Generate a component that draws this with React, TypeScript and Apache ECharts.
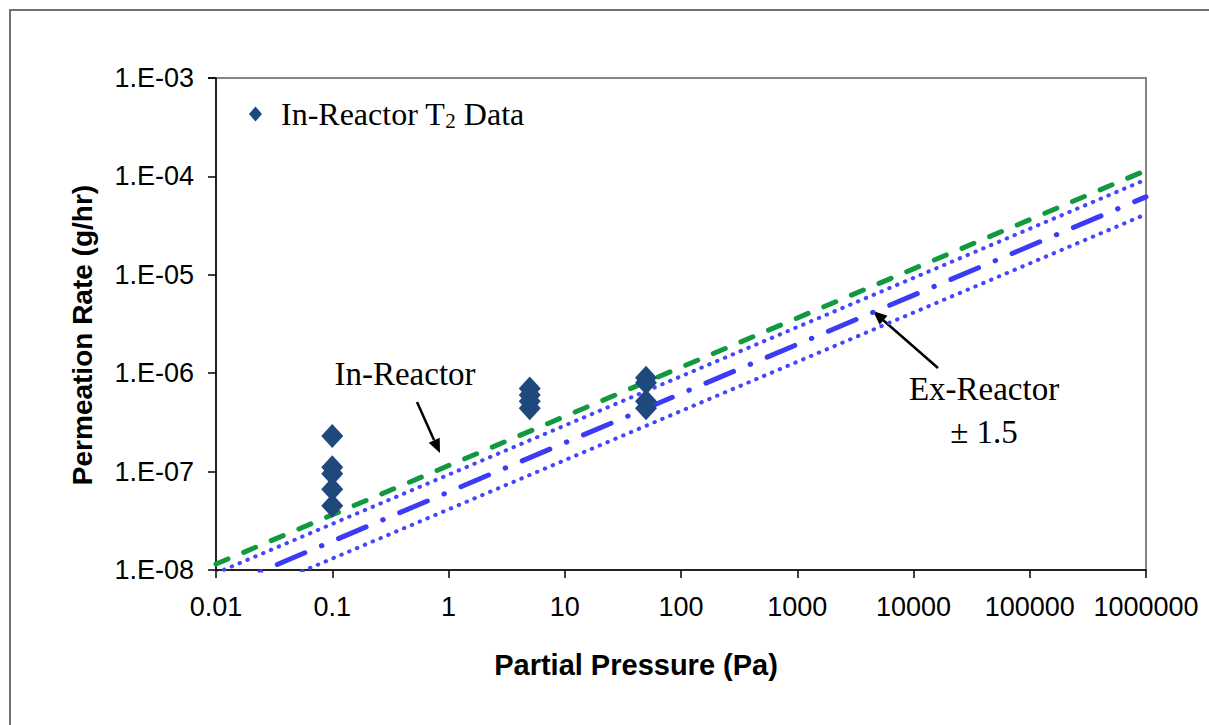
import React, { useEffect, useRef } from "react";
import * as echarts from "echarts";

// ---- data ----
const xTickLabels = ["0.01", "0.1", "1", "10", "100", "1000", "10000", "100000", "1000000"];
const yTickLabels = ["1.E-08", "1.E-07", "1.E-06", "1.E-05", "1.E-04", "1.E-03"];

// In-Reactor T2 data (partial pressure Pa, permeation rate g/hr)
const dataP01 = [2.3e-7, 1.11e-7, 9.5e-8, 6.6e-8, 4.5e-8];
const dataP5 = [7.0e-7, 6.0e-7, 5.2e-7, 4.4e-7];
const dataP50 = [9.0e-7, 8.0e-7, 5.2e-7, 4.4e-7];

// fitted lines: endpoints at 0.01 Pa and 1e6 Pa
const lineX = [0.01, 1000000];
const inReactorY = [1.15e-8, 1.15e-4];
const exReactorY = [6.2e-9, 6.2e-5];
const exReactorHighY = [9.3e-9, 9.3e-5];
const exReactorLowY = [4.13e-9, 4.13e-5];

const scatterData = [
  ...dataP01.map((v) => [0.1, v]),
  ...dataP5.map((v) => [5, v]),
  ...dataP50.map((v) => [50, v]),
];
const toLine = (ys: number[]) => lineX.map((x, i) => [x, ys[i]]);

const SANS = "Liberation Sans, Arial, sans-serif";
const SERIF = "Liberation Serif, Times New Roman, serif";

export default function App() {
  const ref = useRef<HTMLDivElement>(null);
  useEffect(() => {
    if (!ref.current) return;
    const chart = echarts.init(ref.current, null, { renderer: "svg" });
    chart.setOption({
      animation: false,
      backgroundColor: "#ffffff",
      grid: {
        left: 216,
        top: 78,
        right: 63,
        bottom: 155,
        show: true,
        borderColor: "#868686",
        borderWidth: 2,
        backgroundColor: "transparent",
      },
      legend: {
        show: true,
        left: 244,
        top: 93,
        data: [{ name: "In-Reactor T2 Data", icon: "diamond" }],
        itemWidth: 13,
        itemHeight: 15,
        formatter: () => "In-Reactor T{sub|2} Data",
        textStyle: {
          fontFamily: SERIF,
          fontSize: 32,
          color: "#000",
          padding: [0, 0, 0, 14],
          rich: {
            sub: { fontFamily: SERIF, fontSize: 21, color: "#000", padding: [14, 0, 0, 0] },
          },
        },
      },
      xAxis: {
        type: "log",
        logBase: 10,
        min: 0.01,
        max: 1000000,
        axisLine: { show: true, lineStyle: { color: "#000", width: 1.5 } },
        axisTick: { show: true, inside: false, length: 8, lineStyle: { color: "#000", width: 1.5 } },
        minorTick: { show: false },
        splitLine: { show: false },
        axisLabel: {
          margin: 23,
          fontFamily: SANS,
          fontSize: 27,
          color: "#000",
          formatter: (_v: number, i: number) => xTickLabels[i] ?? "",
        },
      },
      yAxis: {
        type: "log",
        logBase: 10,
        min: 1e-8,
        max: 1e-3,
        axisLine: { show: true, lineStyle: { color: "#000", width: 1.5 } },
        axisTick: { show: true, inside: false, length: 8, lineStyle: { color: "#000", width: 1.5 } },
        splitLine: { show: false },
        axisLabel: {
          margin: 22,
          fontFamily: SANS,
          fontSize: 27,
          color: "#000",
          formatter: (_v: number, i: number) => yTickLabels[i] ?? "",
        },
      },
      series: [
        {
          name: "Ex-Reactor -1.5",
          type: "line",
          data: toLine(exReactorLowY),
          symbol: "none",
          lineStyle: { color: "#4545FF", width: 4, type: [0.5, 8], cap: "round" },
          z: 2,
        },
        {
          name: "Ex-Reactor +1.5",
          type: "line",
          data: toLine(exReactorHighY),
          symbol: "none",
          lineStyle: { color: "#4545FF", width: 4, type: [0.5, 8], cap: "round" },
          z: 2,
        },
        {
          name: "Ex-Reactor",
          type: "line",
          data: toLine(exReactorY),
          symbol: "none",
          lineStyle: { color: "#3B3BF5", width: 5, type: [30, 18, 0.5, 18], cap: "round" },
          z: 2,
        },
        {
          name: "In-Reactor",
          type: "line",
          data: toLine(inReactorY),
          symbol: "none",
          lineStyle: { color: "#10993F", width: 5, type: [13, 17], cap: "round" },
          z: 3,
        },
        {
          name: "In-Reactor T2 Data",
          type: "scatter",
          data: scatterData,
          symbol: "diamond",
          symbolSize: [22, 24],
          itemStyle: { color: "#1F497D", opacity: 1 },
          z: 4,
        },
      ],
      graphic: [
        {
          type: "rect",
          shape: { x: 10, y: 10, width: 1260, height: 800 },
          style: { fill: "none", stroke: "#707070", lineWidth: 2 },
          silent: true,
        },
        {
          type: "text",
          x: 82,
          y: 335,
          rotation: Math.PI / 2,
          style: {
            text: "Permeation Rate (g/hr)",
            fontFamily: SANS,
            fontWeight: "bold",
            fontSize: 28,
            fill: "#000",
            align: "center",
            verticalAlign: "middle",
          },
        },
        {
          type: "text",
          x: 636,
          y: 665,
          style: {
            text: "Partial Pressure (Pa)",
            fontFamily: SANS,
            fontWeight: "bold",
            fontSize: 29,
            fill: "#000",
            align: "center",
            verticalAlign: "middle",
          },
        },
        {
          type: "text",
          x: 405,
          y: 374,
          style: {
            text: "In-Reactor",
            fontFamily: SERIF,
            fontSize: 33,
            fill: "#000",
            align: "center",
            verticalAlign: "middle",
          },
        },
        {
          type: "line",
          shape: { x1: 417, y1: 402, x2: 434, y2: 440 },
          style: { stroke: "#000", lineWidth: 2.5 },
        },
        {
          type: "polygon",
          shape: { points: [[440, 453], [428.7, 442.7], [439.7, 437.7]] },
          style: { fill: "#000" },
        },
        {
          type: "text",
          x: 984,
          y: 389,
          style: {
            text: "Ex-Reactor",
            fontFamily: SERIF,
            fontSize: 33,
            fill: "#000",
            align: "center",
            verticalAlign: "middle",
          },
        },
        {
          type: "text",
          x: 984,
          y: 432,
          style: {
            text: "± 1.5",
            fontFamily: SERIF,
            fontSize: 33,
            fill: "#000",
            align: "center",
            verticalAlign: "middle",
          },
        },
        {
          type: "line",
          shape: { x1: 938, y1: 368, x2: 883, y2: 320 },
          style: { stroke: "#000", lineWidth: 2.5 },
        },
        {
          type: "polygon",
          shape: { points: [[873, 311], [887.5, 315.7], [879.6, 324.7]] },
          style: { fill: "#000" },
        },
      ],
    });
    return () => chart.dispose();
  }, []);
  return (
    <div
      ref={ref}
      style={{ position: "absolute", left: 0, top: 0, width: 1209, height: 725, background: "#fff" }}
    />
  );
}
